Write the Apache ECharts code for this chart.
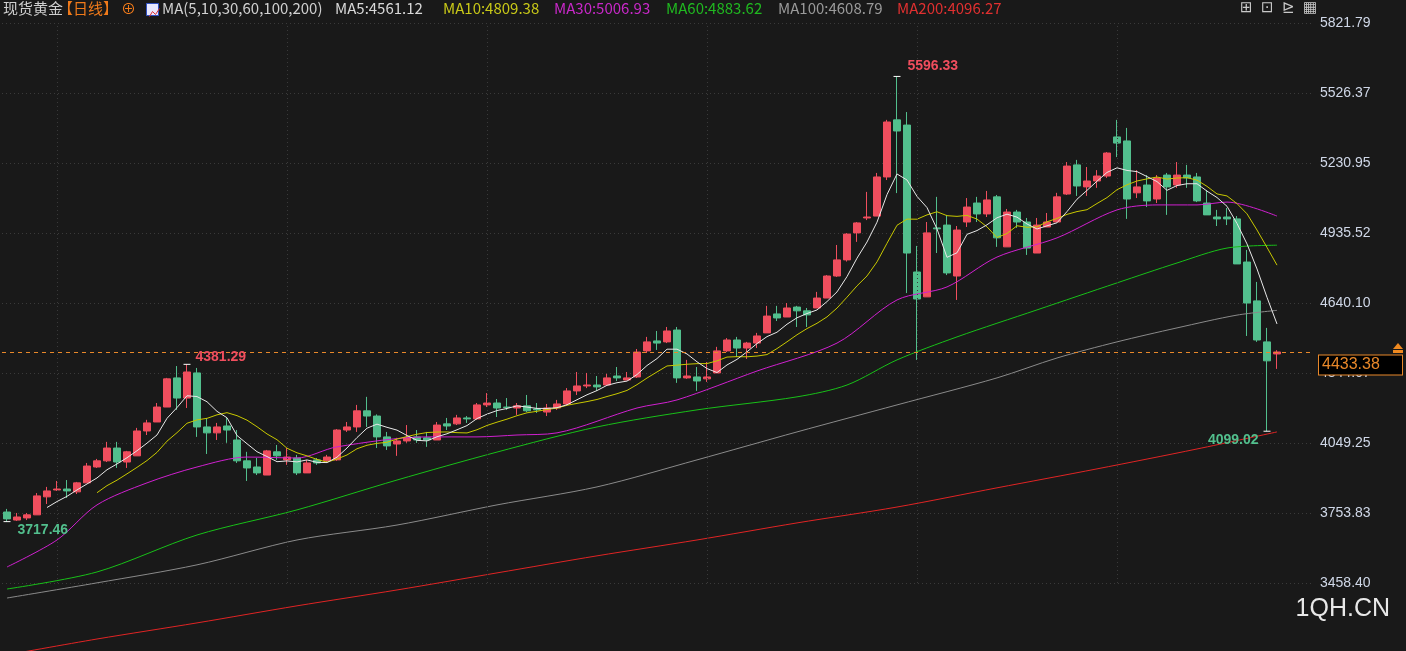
<!DOCTYPE html>
<html><head><meta charset="utf-8">
<script src="https://cdn.jsdelivr.net/npm/echarts@6/dist/echarts.min.js"></script>
<style>html,body{margin:0;padding:0;background:#191919;}#c{width:1406px;height:651px;}</style>
</head><body><div id="c"></div>
<script>
var openV=[3758,3724,3733,3746,3822,3851,3855,3843,3881,3948,3974,4028,3969,3995,4100,4138,4201,4324,4239,4345,
4117,4092,4121,4062,3974,3948,3914,4012,3978,3986,3923,3978,3974,3978,4104,4117,4185,4163,4075,4045,
4058,4075,4071,4062,4130,4130,4155,4151,4210,4218,4201,4197,4206,4193,4180,4197,4214,4269,4290,4294,
4294,4332,4315,4328,4438,4480,4476,4526,4324,4328,4320,4345,4438,4484,4450,4471,4514,4594,4581,4623,
4607,4619,4661,4754,4822,4936,4999,5007,5172,5413,5391,4771,4666,4957,4969,4754,4982,5062,5016,5088,
4877,5024,4982,4851,4961,4982,5100,5223,5130,5155,5176,5341,5324,5105,5138,5079,5180,5138,5180,5172,
5062,5003,5003,4995,4813,4649,4476,4425];
var closeV=[3729,3737,3746,3826,3847,3855,3847,3881,3952,3974,4028,3969,4012,4100,4134,4201,4320,4239,4349,4117,
4092,4117,4104,3974,3944,3923,4016,3995,3990,3923,3965,3965,3990,4104,4117,4185,4163,4075,4037,4058,
4071,4062,4062,4125,4121,4155,4151,4210,4218,4197,4199,4206,4185,4189,4197,4214,4269,4290,4294,4286,
4324,4324,4324,4433,4476,4471,4522,4324,4332,4311,4328,4438,4484,4450,4471,4501,4585,4577,4619,4607,
4590,4661,4754,4822,4931,4978,5003,5172,5404,5366,4851,4657,4936,4953,4767,4948,5045,5016,5075,4915,
5024,4982,4872,4969,4982,5088,5218,5134,5155,5176,5273,5315,5079,5130,5071,5168,5130,5180,5168,5071,
5012,4995,4995,4805,4640,4484,4396,4433.38];
var lowV=[3717.46,3720,3724,3746,3792,3847,3817,3834,3881,3944,3969,3944,3944,3995,4083,4138,4201,4189,4197,4075,
4003,4062,4050,3965,3889,3914,3914,3978,3957,3914,3923,3957,3965,3974,4096,4096,4117,4028,4020,3995,
4050,4050,4033,4062,4104,4125,4134,4147,4201,4159,4189,4168,4180,4176,4163,4189,4210,4252,4281,4269,
4294,4311,4315,4324,4429,4442,4471,4303,4320,4269,4307,4345,4433,4412,4404,4450,4514,4564,4581,4539,
4539,4619,4661,4750,4815,4898,4990,5007,5159,5104,4682,4400,4666,4851,4758,4653,4961,4982,5003,4877,
4877,4957,4843,4851,4961,4982,5096,5092,5092,5126,5168,5256,4995,5083,5045,5062,5012,5126,5126,5066,
5012,4965,4969,4805,4501,4476,4099.02,4362];
var highV=[3771,3754,3754,3838,3864,3889,3893,3885,3965,3982,4054,4054,4016,4113,4147,4218,4324,4374,4381.29,4366,
4155,4134,4155,4104,4012,3986,4020,4041,4028,3999,3978,3986,3999,4108,4138,4210,4244,4170,4096,4071,
4125,4104,4096,4138,4155,4168,4163,4218,4260,4235,4239,4218,4252,4218,4214,4231,4281,4349,4345,4332,
4341,4370,4349,4446,4497,4522,4539,4539,4400,4370,4391,4455,4492,4497,4476,4514,4628,4628,4640,4628,
4619,4687,4758,4885,4935,4982,5109,5189,5413,5596.33,5446,4881,4982,5088,5012,4965,5083,5088,5113,5096,
5037,5033,4999,4999,5020,5105,5235,5244,5214,5201,5277,5413,5379,5201,5180,5180,5189,5235,5223,5189,
5117,5033,5041,5007,4864,4729,4535,4441];
// moving averages at selected candles (index -> value)
var ma30Pts=[[0,3526],[5,3640],[9,3788],[14,3881],[19,3948],[24,3990],[29,3986],[33,4033],[42,4075],[47,4075],[51,4083],[55,4092],[63,4197],[67,4231],[75,4353],[83,4471],[89,4653],[94,4708],[99,4834],[105,4915],[111,5033],[115,5054],[119,5054],[122,5066],[127,5007]];
var ma60Pts=[[0,3433],[9,3505],[19,3661],[29,3767],[39,3893],[49,4011],[59,4117],[69,4189],[79,4244],[84,4294],[89,4400],[95,4497],[103,4611],[111,4725],[117,4809],[122,4872],[127,4884]];
var ma100Pts=[[0,3395],[9,3459],[19,3535],[29,3640],[39,3703],[49,3788],[59,3864],[69,3978],[79,4096],[89,4210],[99,4324],[105,4408],[111,4476],[117,4535],[123,4589],[127,4609]];
var ma200Pts=[[0,3155],[9,3222],[19,3290],[29,3362],[39,3429],[49,3501],[59,3573],[69,3640],[79,3712],[89,3779],[99,3860],[109,3940],[119,4024],[127,4096]];
var yTicks=[3458.40,3753.83,4049.25,4344.67,4640.10,4935.52,5230.95,5526.37,5821.79];
var lastPrice=4433.38;
var monthIdx=[5,28,48,70,91,111];

var N=openV.length, TOTAL=N+3;
var cats=[];for(var i=0;i<TOTAL;i++)cats.push(String(i+1));
var kData=[];for(var i=0;i<N;i++)kData.push([openV[i],closeV[i],lowV[i],highV[i]]);
function ma(n){var r=[];for(var i=0;i<N;i++){if(i<n-1){r.push(null);continue;}var s=0;for(var j=0;j<n;j++)s+=closeV[i-j];r.push(+(s/n).toFixed(2));}return r;}
function sparse(p){var r=new Array(N).fill(null);p.forEach(function(q){r[q[0]]=q[1];});return r;}
var minY=yTicks[0],maxY=yTicks[yTicks.length-1],step=(maxY-minY)/(yTicks.length-1);
function line(name,data,color,sm){return{name:name,type:'line',data:data,symbol:'none',connectNulls:true,smooth:sm,clip:false,lineStyle:{color:color,width:1},z:3};}
var chart=echarts.init(document.getElementById('c'));
var tfont='"Noto Sans CJK SC","Noto Sans",sans-serif';
var hdr=[['现货黄金',3,'#d0d0d0'],['【日线】',58,'#f07a1a'],['⊕',121,'#f07a1a'],['MA(5,10,30,60,100,200)',162,'#d0d0d0'],['MA5:4561.12',335,'#d8d8d8'],['MA10:4809.38',443,'#c8c818'],['MA30:5006.93',554,'#c828c8'],['MA60:4883.62',666,'#20b820'],['MA100:4608.79',778,'#9a9a9a'],['MA200:4096.27',897,'#e03030']];
var graphics=hdr.map(function(h){return{type:'text',left:h[1],top:1,style:{text:h[0],fill:h[2],font:'15px '+tfont}};});
graphics.push({type:'rect',left:146,top:3,shape:{width:12,height:12},style:{fill:'#e8e8ff',stroke:'#3050c0'}});
graphics.push({type:'polyline',left:147,top:6,shape:{points:[[0,8],[3,3],[6,6],[10,0]]},style:{stroke:'#e03030',fill:null,lineWidth:1}});
['⊞','⊡','⊵','▦'].forEach(function(s,k){graphics.push({type:'text',left:1240+k*21,top:1,style:{text:s,fill:'#c8c8c8',font:'15px "DejaVu Sans"'}});});
graphics.push({type:'text',right:16,top:597,style:{text:'1QH.CN',fill:'#e8e8e8',font:'25px "Liberation Sans",sans-serif'}});
graphics.push({type:'polygon',left:1393,top:343,shape:{points:[[0,6],[5,0],[10,6]]},style:{fill:'#f08a20'}});
graphics.push({type:'rect',left:1393,top:350,shape:{width:10,height:3},style:{fill:'#f08a20'}});

chart.setOption({
backgroundColor:'#191919',animation:false,
grid:{left:2,right:94,top:23,bottom:68},
xAxis:{type:'category',data:cats,boundaryGap:true,axisLine:{show:false},axisTick:{show:false},axisLabel:{show:false},splitLine:{show:false}},
yAxis:{type:'value',position:'right',min:minY,max:maxY,interval:step,scale:true,
 axisLine:{show:false},axisTick:{show:false},
 axisLabel:{color:'#d0d8e8',fontSize:14,fontFamily:'"Liberation Sans",Arial',margin:8,formatter:function(v){var b=yTicks.reduce(function(a,t){return Math.abs(t-v)<Math.abs(a-v)?t:a;});return b.toFixed(2);}},
 splitLine:{lineStyle:{color:'#3a3a3a',type:[1,3]}}},
graphic:graphics,
series:[
 {type:'candlestick',data:kData,barWidth:8,z:2,
  itemStyle:{color:'#f04e5e',color0:'#52bf8d',borderColor:'#f04e5e',borderColor0:'#52bf8d',borderWidth:1},
  markLine:{silent:true,symbol:'none',animation:false,data:monthIdx.map(function(i){return{xAxis:i,lineStyle:{color:'#3a3a3a',type:[1,3],width:1},label:{show:false}};}).concat([{yAxis:lastPrice,lineStyle:{color:'#e8882a',type:[4,4],width:1},label:{show:true,position:'end',formatter:lastPrice.toFixed(2),color:'#e8882a',fontSize:16,fontFamily:'"Liberation Sans",Arial',backgroundColor:'#000',borderColor:'#e8882a',borderWidth:1,padding:[2,6,1,3],width:74,offset:[2,13]}}])},
  markPoint:{symbol:'rect',symbolSize:[7,1],itemStyle:{color:'#ffffff'},data:[
   {coord:[89,5596.33],label:{show:true,formatter:'5596.33',position:'right',offset:[2,-10],color:'#f04e5e',fontSize:14,fontWeight:'bold',fontFamily:'"Liberation Sans",Arial'}},
   {coord:[18,4381.29],label:{show:true,formatter:'4381.29',position:'right',offset:[0,-7],color:'#f04e5e',fontSize:14,fontWeight:'bold',fontFamily:'"Liberation Sans",Arial'}},
   {coord:[0,3717.46],label:{show:true,formatter:'3717.46',position:'right',offset:[2,9],color:'#52bf8d',fontSize:14,fontWeight:'bold',fontFamily:'"Liberation Sans",Arial'}},
   {coord:[126,4099.02],label:{show:true,formatter:'4099.02',position:'left',offset:[0,9],color:'#52bf8d',fontSize:14,fontWeight:'bold',fontFamily:'"Liberation Sans",Arial'}}]}},
 line('MA200',sparse(ma200Pts),'#e02424',0.3),
 line('MA100',sparse(ma100Pts),'#8a8a8a',0.3),
 line('MA60',sparse(ma60Pts),'#18c018',0.3),
 line('MA30',sparse(ma30Pts),'#d020d0',0.3),
 line('MA10',ma(10),'#c8c800',false),
 line('MA5',ma(5),'#e8e8e8',false)
]});
</script></body></html>
